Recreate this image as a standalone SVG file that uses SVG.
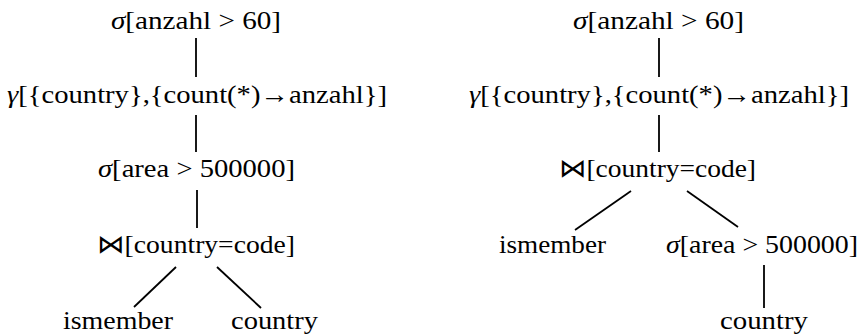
<svg xmlns="http://www.w3.org/2000/svg" width="862" height="335" viewBox="0 0 862 335">
<style>
text{font-family:"Liberation Serif","DejaVu Serif",serif;font-size:26px;fill:#000;text-anchor:middle}
.m{font-style:italic}
.e{stroke:#000;stroke-width:1.8;fill:none}
</style>
<rect width="862" height="335" fill="#fff"/>
<g id="edges">
<line class="e" x1="196" y1="38" x2="196" y2="77"/>
<line class="e" x1="196" y1="115" x2="196" y2="152"/>
<line class="e" x1="197" y1="190" x2="197" y2="228"/>
<line class="e" x1="176" y1="267" x2="134" y2="307"/>
<line class="e" x1="217" y1="267" x2="261" y2="308"/>
<line class="e" x1="659" y1="38" x2="659" y2="77"/>
<line class="e" x1="659" y1="115" x2="659" y2="152"/>
<line class="e" x1="631" y1="191" x2="575" y2="230"/>
<line class="e" x1="687" y1="191" x2="738" y2="227"/>
<line class="e" x1="764" y1="265" x2="764" y2="308"/>
</g>
<g id="L1"><text x="196" y="29" textLength="170" lengthAdjust="spacingAndGlyphs"><tspan class="m">σ</tspan>[anzahl &gt; 60]</text></g>
<g id="L2"><text x="197" y="103" textLength="380" lengthAdjust="spacingAndGlyphs"><tspan class="m">γ</tspan>[{country},{count(*)→anzahl}]</text></g>
<g id="L3"><text x="196.5" y="177" textLength="197" lengthAdjust="spacingAndGlyphs"><tspan class="m">σ</tspan>[area &gt; 500000]</text></g>
<g id="L4"><text x="196" y="253" textLength="198" lengthAdjust="spacingAndGlyphs">⋈[country=code]</text></g>
<g id="L5"><text x="118" y="329" textLength="110" lengthAdjust="spacingAndGlyphs">ismember</text></g>
<g id="L6"><text x="274.5" y="329" textLength="87" lengthAdjust="spacingAndGlyphs">country</text></g>
<g id="R1"><text x="658.5" y="29" textLength="171" lengthAdjust="spacingAndGlyphs"><tspan class="m">σ</tspan>[anzahl &gt; 60]</text></g>
<g id="R2"><text x="659" y="103" textLength="380" lengthAdjust="spacingAndGlyphs"><tspan class="m">γ</tspan>[{country},{count(*)→anzahl}]</text></g>
<g id="R3"><text x="657.5" y="177" textLength="197" lengthAdjust="spacingAndGlyphs">⋈[country=code]</text></g>
<g id="R4"><text x="552.5" y="253" textLength="107" lengthAdjust="spacingAndGlyphs">ismember</text></g>
<g id="R5"><text x="762" y="253" textLength="192" lengthAdjust="spacingAndGlyphs"><tspan class="m">σ</tspan>[area &gt; 500000]</text></g>
<g id="R6"><text x="764" y="329" textLength="88" lengthAdjust="spacingAndGlyphs">country</text></g>
</svg>
